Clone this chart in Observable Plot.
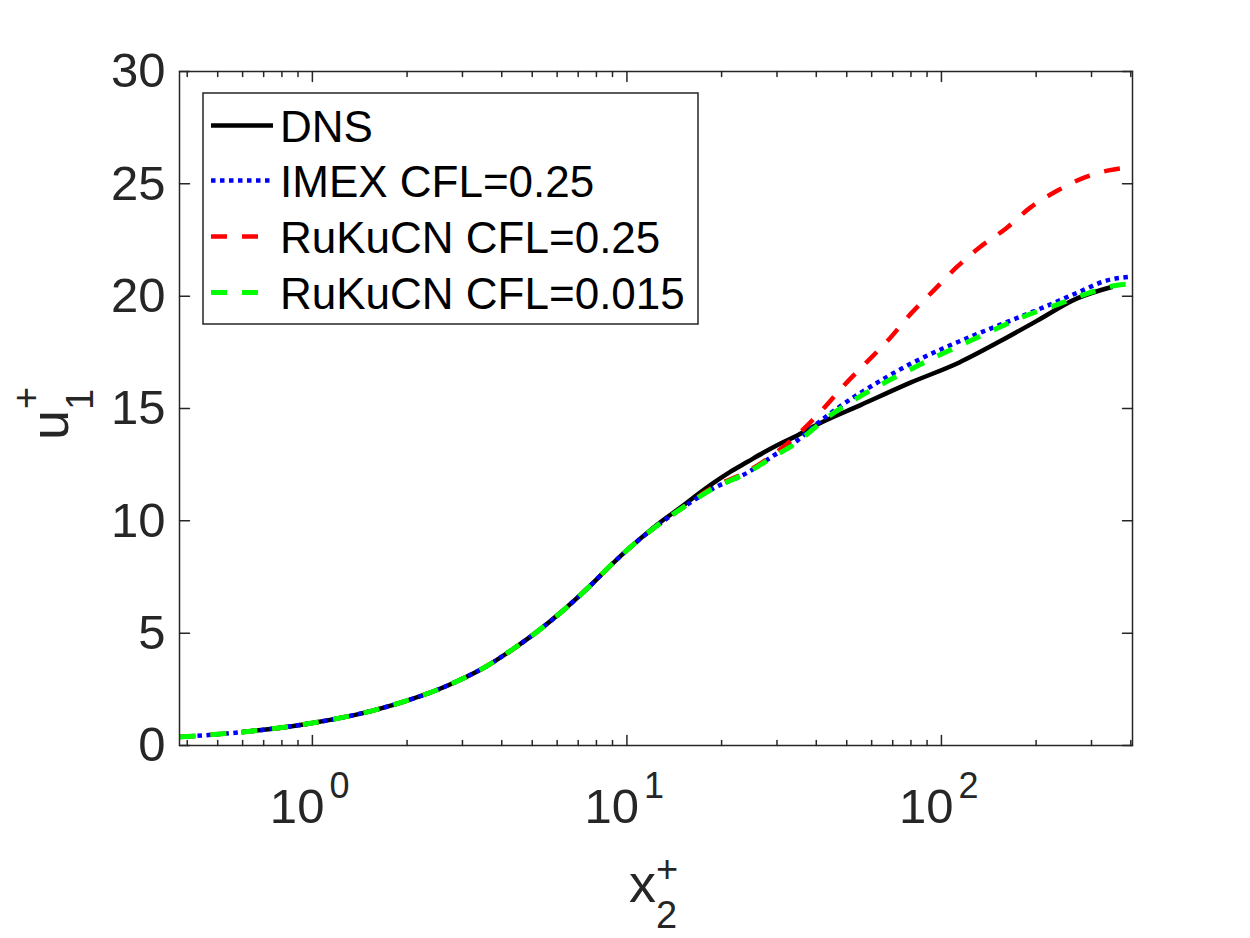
<!DOCTYPE html>
<html>
<head>
<meta charset="utf-8">
<script src="https://cdn.jsdelivr.net/npm/d3@7"></script>
<script src="https://cdn.jsdelivr.net/npm/@observablehq/plot@0.6"></script>
<style>
  html, body { margin: 0; padding: 0; background: #fff; }
  #chart svg { display: block; }
</style>
</head>
<body>
<div id="chart"></div>
<script>
// ---------- data ----------
const seriesNames  = ["DNS", "IMEX CFL=0.25", "RuKuCN CFL=0.25", "RuKuCN CFL=0.015"];
const seriesColors = ["#000000", "#0000ff", "#ff0000", "#00ff00"];

const dnsX = [0.6, 0.7, 0.85, 1, 1.25, 1.6, 2, 2.5, 3, 3.5, 4.3, 5, 6.2, 7.5, 9, 10.5, 12.8, 15.1, 16.8, 18.8, 21.3, 24.2, 27.2, 30.8, 34.8, 39.2, 55.3, 79.7, 114, 154, 201, 270, 350];
const dnsU = [0.6, 0.7, 0.85, 1.0, 1.25, 1.6, 2.0, 2.48, 2.97, 3.45, 4.25, 4.9, 5.95, 7.0, 8.1, 8.95, 9.95, 10.68, 11.18, 11.68, 12.18, 12.63, 13.04, 13.44, 13.8, 14.2, 15.15, 16.15, 17.05, 18.0, 18.9, 19.9, 20.42];

const imexX = [0.378, 0.45, 0.55, 0.7, 0.85, 1, 1.25, 1.6, 2, 2.5, 3, 3.5, 4.3, 5, 6.2, 7.5, 9, 10.5, 12.8, 15.1, 18.8, 24.2, 29.2, 34.8, 39.2, 48.8, 62.5, 80, 101, 129, 165, 211, 270, 336, 405];
const imexU = [0.38, 0.45, 0.55, 0.7, 0.85, 1.0, 1.25, 1.6, 2.0, 2.48, 2.97, 3.45, 4.25, 4.9, 5.95, 7.0, 8.1, 8.95, 9.9, 10.6, 11.44, 12.15, 12.9, 13.57, 14.2, 15.2, 16.15, 17.0, 17.67, 18.3, 18.9, 19.5, 20.15, 20.7, 20.87];

const rk25X = [0.378, 0.45, 0.55, 0.7, 0.85, 1, 1.25, 1.6, 2, 2.5, 3, 3.5, 4.3, 5, 6.2, 7.5, 9, 10.5, 12.8, 15.1, 18.8, 24.2, 29.2, 35.6, 42.2, 48.8, 58.2, 67.3, 79.7, 94.4, 112, 133, 160, 192, 234, 287, 340, 405];
const rk25U = [0.38, 0.45, 0.55, 0.7, 0.85, 1.0, 1.25, 1.6, 2.0, 2.48, 2.97, 3.45, 4.25, 4.9, 5.95, 7.0, 8.1, 8.95, 9.9, 10.6, 11.5, 12.2, 12.95, 13.95, 15.0, 16.0, 17.1, 18.0, 19.2, 20.25, 21.3, 22.2, 23.0, 23.95, 24.7, 25.3, 25.6, 25.75];

const rk015X = [0.378, 0.45, 0.55, 0.7, 0.85, 1, 1.25, 1.6, 2, 2.5, 3, 3.5, 4.3, 5, 6.2, 7.5, 9, 10.5, 12.8, 15.1, 18.8, 24.2, 29.2, 34.8, 39.2, 43.4, 55.3, 80, 101, 123, 150, 187, 238, 295, 350, 405];
const rk015U = [0.38, 0.45, 0.55, 0.7, 0.85, 1.0, 1.25, 1.6, 2.0, 2.48, 2.97, 3.45, 4.25, 4.9, 5.95, 7.0, 8.1, 8.95, 9.9, 10.6, 11.44, 12.15, 12.85, 13.5, 14.1, 14.6, 15.55, 16.75, 17.45, 18.0, 18.56, 19.15, 19.67, 20.15, 20.45, 20.55];

const xDomain = [0.378, 405];
const yDomain = [0, 30];
const xMajorTicks = [1, 10, 100];
const xTickBase = ["10", "10", "10"];
const xTickExp = ["0", "1", "2"];
const xMinorTicks = [0.4, 0.5, 0.6, 0.7, 0.8, 0.9, 2, 3, 4, 5, 6, 7, 8, 9, 20, 30, 40, 50, 60, 70, 80, 90, 200, 300, 400];
const yTicks = [0, 5, 10, 15, 20, 25, 30];

// ---------- styles ----------
const axisColor = "#262626";
const FONT = "'Liberation Sans', Arial, Helvetica, sans-serif";
const lineStyles = [
  {strokeWidth: 4.5, dash: null},
  {strokeWidth: 4.5, dash: "4.5,4.5"},
  {strokeWidth: 4.5, dash: "16,15"},
  {strokeWidth: 5, dash: "16,15"}
];

const toRows = (xs, us) => xs.map((x, i) => ({x, u: us[i]}));
const seriesData = [toRows(dnsX, dnsU), toRows(imexX, imexU), toRows(rk25X, rk25U), toRows(rk015X, rk015U)];

const tickShape = {draw(ctx, l) { ctx.moveTo(0, 0); ctx.lineTo(0, -l); }};
const tickOpts = (extra) => Object.assign({anchor: "start", shape: tickShape, stroke: axisColor, strokeWidth: 1.5}, extra);

const marks = [];
seriesData.forEach((data, i) => {
  marks.push(Plot.line(data, {
    x: "x", y: "u", stroke: seriesColors[i],
    strokeWidth: lineStyles[i].strokeWidth,
    strokeDasharray: lineStyles[i].dash,
    strokeLinecap: "butt",
    curve: "monotone-x", clip: true
  }));
});

// inward ticks on all four sides
marks.push(
  Plot.vector(xMajorTicks, tickOpts({x: d => d, frameAnchor: "bottom", length: 10, rotate: 0})),
  Plot.vector(xMinorTicks, tickOpts({x: d => d, frameAnchor: "bottom", length: 5, rotate: 0})),
  Plot.vector(xMajorTicks, tickOpts({x: d => d, frameAnchor: "top", length: 10, rotate: 180})),
  Plot.vector(xMinorTicks, tickOpts({x: d => d, frameAnchor: "top", length: 5, rotate: 180})),
  Plot.vector(yTicks, tickOpts({y: d => d, frameAnchor: "left", length: 10, rotate: 90})),
  Plot.vector(yTicks, tickOpts({y: d => d, frameAnchor: "right", length: 10, rotate: -90})),
  Plot.frame({stroke: axisColor, strokeWidth: 1.5})
);

// tick labels
marks.push(
  Plot.text(yTicks, {y: d => d, text: d => String(d), frameAnchor: "left", dx: -14, textAnchor: "end",
                     fontSize: 49, fill: axisColor}),
  Plot.text(xMajorTicks, {x: d => d, text: (d, i) => xTickBase[i], frameAnchor: "bottom", dx: 12, dy: 77,
                          textAnchor: "end", lineAnchor: "bottom", fontSize: 49, fill: axisColor}),
  Plot.text(xMajorTicks, {x: d => d, text: (d, i) => xTickExp[i], frameAnchor: "bottom", dx: 17, dy: 52,
                          textAnchor: "start", lineAnchor: "bottom", fontSize: 36, fill: axisColor})
);

const chart = Plot.plot({
  width: 1250,
  height: 938,
  marginLeft: 179,
  marginRight: 118,
  marginTop: 71,
  marginBottom: 193,
  x: {type: "log", domain: xDomain, axis: null},
  y: {domain: yDomain, axis: null},
  style: {fontFamily: FONT, background: "#ffffff", overflow: "visible"},
  marks
});

document.getElementById("chart").appendChild(chart);

// ---------- axis labels & legend ----------
const svg = d3.select(chart);

// x label: x_2^+
const xl = svg.append("text").attr("font-family", FONT).attr("fill", axisColor).attr("text-anchor", "start");
xl.append("tspan").attr("x", 629).attr("y", 902).attr("font-size", 54).text("x");
xl.append("tspan").attr("x", 656).attr("y", 928).attr("font-size", 38).text("2");
xl.append("tspan").attr("x", 656).attr("y", 882).attr("font-size", 38).text("+");

// y label: u_1^+ (rotated)
const yl = svg.append("g").attr("transform", "translate(68,440) rotate(-90)")
  .append("text").attr("font-family", FONT).attr("fill", axisColor).attr("text-anchor", "start");
yl.append("tspan").attr("x", 0).attr("y", 0).attr("font-size", 54).text("u");
yl.append("tspan").attr("x", 30).attr("y", 25).attr("font-size", 38).text("1");
yl.append("tspan").attr("x", 31).attr("y", -29).attr("font-size", 38).text("+");

// legend
const lg = svg.append("g").attr("font-family", FONT).attr("text-anchor", "start");
lg.append("rect").attr("x", 203).attr("y", 93).attr("width", 495).attr("height", 231)
  .attr("fill", "#fff").attr("stroke", axisColor).attr("stroke-width", 1.5);
const rowY = [125.5, 180.5, 236.5, 292.5];
seriesNames.forEach((name, i) => {
  lg.append("line").attr("x1", 211).attr("x2", 273).attr("y1", rowY[i]).attr("y2", rowY[i])
    .attr("stroke", seriesColors[i]).attr("stroke-width", lineStyles[i].strokeWidth)
    .attr("stroke-dasharray", lineStyles[i].dash);
  lg.append("text").attr("x", 280).attr("y", rowY[i] + 16).attr("font-size", 44)
    .attr("text-anchor", "start").attr("fill", "#000").text(name);
});
</script>
</body>
</html>
